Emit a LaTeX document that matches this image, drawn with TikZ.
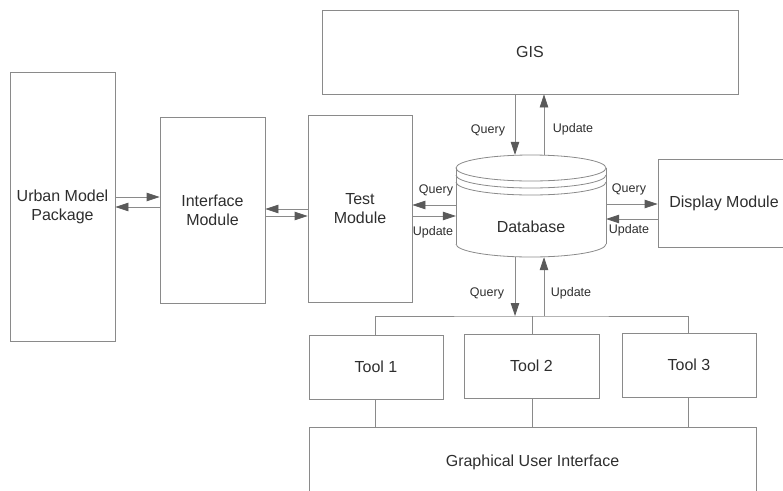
\documentclass[tikz,border=0pt]{standalone}
\usepackage{fontspec}
\setmainfont{Liberation Sans}
\usetikzlibrary{arrows.meta}
\definecolor{linegray}{HTML}{8A8A8A}
\definecolor{headgray}{HTML}{5A5A5A}
\definecolor{textgray}{HTML}{2E2E2E}
\tikzset{
  box/.style={draw=linegray, line width=0.8pt, inner sep=0pt, align=center,
    text=textgray, font=\fontsize{16}{19}\selectfont},
  lbl/.style={text=textgray, font=\fontsize{12.5}{15}\selectfont, inner sep=0pt},
  arr/.style={draw=linegray, line width=0.8pt,
    -{Triangle[length=13pt,width=8.5pt,color=headgray]}},
  wire/.style={draw=linegray, line width=0.8pt}
}
\begin{document}
\begin{tikzpicture}[x=1pt,y=-1pt]
\useasboundingbox (0,0) rectangle (783,490);
\clip (0,0) rectangle (783,490);

% modules
\node[box, minimum width=105pt, minimum height=269pt] (urban) at (62.5,206.5) {Urban Model\\Package};
\node[box, minimum width=105pt, minimum height=186pt] (iface) at (212.5,210) {Interface\\Module};
\node[box, minimum width=104pt, minimum height=187pt] (test) at (360,208.5) {Test\\Module};
\node[box, minimum width=416pt, minimum height=84pt] (gis) at (530,52) {GIS};
\node[box, minimum width=132pt, minimum height=88pt] (disp) at (724,203) {Display Module};
\node[box, minimum width=134pt, minimum height=64pt] (t1) at (376,367) {Tool 1};
\node[box, minimum width=135pt, minimum height=64pt] (t2) at (531.5,366) {Tool 2};
\node[box, minimum width=134pt, minimum height=64pt] (t3) at (689,365) {Tool 3};
\node[box, minimum width=447pt, minimum height=68pt, text depth=0pt] (gui) at (532.5,461) {Graphical User Interface};

% database cylinder
\begin{scope}[draw=linegray, line width=0.8pt]
  \draw (531,168) ellipse [x radius=75pt, y radius=13pt];
  \draw (456,175) arc [start angle=180, end angle=360, x radius=75pt, y radius=13pt];
  \draw (456,182) arc [start angle=180, end angle=360, x radius=75pt, y radius=13pt];
  \draw (456,168) -- (456,244);
  \draw (606,168) -- (606,244);
  \draw (456,244) arc [start angle=180, end angle=360, x radius=75pt, y radius=13pt];
\end{scope}
\node[inner sep=0pt, minimum width=150pt, minimum height=102pt] (db) at (531,206) {};
\node[text=textgray, font=\fontsize{16}{19}\selectfont] (dblabel) at (531,227) {Database};

% reference levels for the connectors
\coordinate (xq) at (515,0);
\coordinate (xu) at (544,0);
\coordinate (bus) at (531,316);
\coordinate (yA) at (0,197);
\coordinate (yB) at (0,207);
\coordinate (yC) at (0,209);
\coordinate (yD) at (0,216);
\coordinate (yE) at (0,205);
\coordinate (yF) at (0,216);
\coordinate (yG) at (0,204);
\coordinate (yH) at (0,219);

% urban model <-> interface <-> test
\draw[arr] (urban.east |- yA) -- (iface.west |- yA);
\draw[arr] (iface.west |- yB) -- (urban.east |- yB);
\draw[arr] (test.west |- yC) -- (iface.east |- yC);
\draw[arr] (iface.east |- yD) -- (test.west |- yD);

% test <-> database
\draw[arr] (db.west |- yE) -- (test.east |- yE);
\draw[arr] (test.east |- yF) -- (db.west |- yF);
\node[lbl] (lq1) at (436,190) {Query};
\node[lbl] (lu1) at (433,232) {Update};

% database <-> display
\draw[arr] (db.east |- yG) -- (disp.west |- yG);
\draw[arr] (disp.west |- yH) -- (db.east |- yH);
\node[lbl] (lq2) at (629,189) {Query};
\node[lbl] (lu2) at (629,230) {Update};

% GIS <-> database
\draw[arr] (gis.south -| xq) -- (db.north -| xq);
\draw[arr] (db.north -| xu) -- (gis.south -| xu);
\node[lbl] (lq3) at (488,130) {Query};
\node[lbl] (lu3) at (573,129) {Update};

% database <-> tools
\draw[arr] (db.south -| xq) -- (bus -| xq);
\draw[arr] (bus -| xu) -- (db.south -| xu);
\node[lbl] (lq4) at (487,293) {Query};
\node[lbl] (lu4) at (571,293) {Update};

% tool bus
\draw[wire] (t1.north -| 375,0) |- (bus) -| (t3.north -| 688,0);
\draw[wire] (t2.north -| 532,0) -- (bus -| 532,0);

% tools -> graphical user interface
\draw[wire] (t1.south -| 375,0) -- (gui.north -| 375,0);
\draw[wire] (t2.south -| 532,0) -- (gui.north -| 532,0);
\draw[wire] (t3.south -| 688,0) -- (gui.north -| 688,0);
\end{tikzpicture}
\end{document}
